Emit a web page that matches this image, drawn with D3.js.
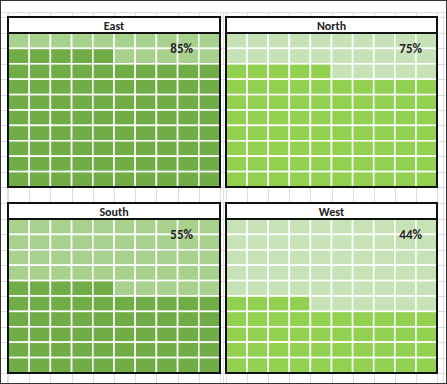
<!DOCTYPE html>
<html>
<head>
<meta charset="utf-8">
<script src="https://cdn.jsdelivr.net/npm/d3@7"></script>
<style>
  body { margin: 0; background: #fff; }
  svg { display: block; }
</style>
</head>
<body>
<svg id="chart" width="447" height="384"></svg>
<script>
// waffle data
const regions = ['East', 'North', 'South', 'West'];
const percents = [85, 75, 55, 44];

const width = 447, height = 384;
const nCols = 10, nRows = 10;

// panel layout: two columns, two rows
const panelLefts = [8, 226];
const panelWidths = [212, 211];
const panelTops = [17, 203];
const titleH = 16, gridH = 154;
const labelDx = [185, 196];

const palette = {
  left: { on: '#70ad47', off: '#a9d18e' },
  right: { on: '#92d050', off: '#c8e2b8' },
};

const svg = d3.select('#chart');

// faint spreadsheet gridlines behind everything
const bg = svg.append('g').attr('stroke', '#dedede').attr('stroke-width', 1);

const vLines = [7];
panelLefts.forEach((px, i) => {
  const x = d3.scaleLinear().domain([0, nCols]).range([px, px + panelWidths[i]]);
  d3.range(nCols + 1).forEach(k => vLines.push(x(k)));
});
vLines.push(223, 443);

const hLines = [12, 17, 203];
panelTops.forEach(py => {
  const y = d3.scaleLinear().domain([0, nRows]).range([py + titleH, py + titleH + gridH]);
  d3.range(nRows + 1).forEach(k => hLines.push(y(k)));
});

bg.selectAll('line.v').data(vLines).join('line')
  .attr('class', 'v')
  .attr('x1', d => Math.round(d) + 0.5).attr('x2', d => Math.round(d) + 0.5)
  .attr('y1', 12).attr('y2', height);

bg.selectAll('line.h').data(hLines).join('line')
  .attr('class', 'h')
  .attr('x1', 0).attr('x2', width)
  .attr('y1', d => Math.round(d) + 0.5).attr('y2', d => Math.round(d) + 0.5);

regions.forEach((name, i) => {
  const col = i % 2, row = Math.floor(i / 2);
  const px = panelLefts[col], pw = panelWidths[col], py = panelTops[row];
  const colors = col === 0 ? palette.left : palette.right;
  const value = percents[i];

  const x = d3.scaleBand().domain(d3.range(nCols)).range([px, px + pw]);
  const y = d3.scaleBand().domain(d3.range(nRows)).range([py + titleH, py + titleH + gridH]);

  const g = svg.append('g');

  // cells: filled from the bottom row upward, left to right
  const cells = d3.cross(d3.range(nRows), d3.range(nCols), (r, c) => ({ r, c }));
  g.selectAll('rect.cell').data(cells).join('rect')
    .attr('class', 'cell')
    .attr('x', d => x(d.c))
    .attr('y', d => y(d.r))
    .attr('width', x.bandwidth())
    .attr('height', y.bandwidth())
    .attr('fill', d => ((nRows - 1 - d.r) * nCols + d.c < value ? colors.on : colors.off))
    .attr('stroke', '#fff')
    .attr('stroke-width', 1.6);

  // title box
  g.append('rect')
    .attr('x', px).attr('y', py)
    .attr('width', pw).attr('height', titleH)
    .attr('fill', '#fff');

  g.append('text')
    .attr('x', px + pw / 2)
    .attr('y', py + 13)
    .attr('text-anchor', 'middle')
    .style('font-family', 'Carlito, "Liberation Sans", Arial, sans-serif')
    .style('font-weight', 'bold')
    .style('font-size', '12px')
    .attr('fill', '#222')
    .text(name);

  // percent label
  g.append('text')
    .attr('x', px + labelDx[col])
    .attr('y', py + titleH + 20)
    .attr('text-anchor', 'end')
    .style('font-family', 'Carlito, "Liberation Sans", Arial, sans-serif')
    .style('font-weight', 'bold')
    .style('font-size', '13px')
    .attr('fill', '#222')
    .text(d3.format('.0%')(value / 100));

  // borders
  g.append('rect')
    .attr('x', px).attr('y', py)
    .attr('width', pw).attr('height', titleH + gridH)
    .attr('fill', 'none')
    .attr('stroke', '#111')
    .attr('stroke-width', 2);

  g.append('line')
    .attr('x1', px).attr('x2', px + pw)
    .attr('y1', py + titleH).attr('y2', py + titleH)
    .attr('stroke', '#111')
    .attr('stroke-width', 2);
});

// outer frame
svg.append('rect')
  .attr('x', 0.5).attr('y', 0.5)
  .attr('width', width - 1).attr('height', height - 1)
  .attr('fill', 'none')
  .attr('stroke', '#333');
</script>
</body>
</html>
